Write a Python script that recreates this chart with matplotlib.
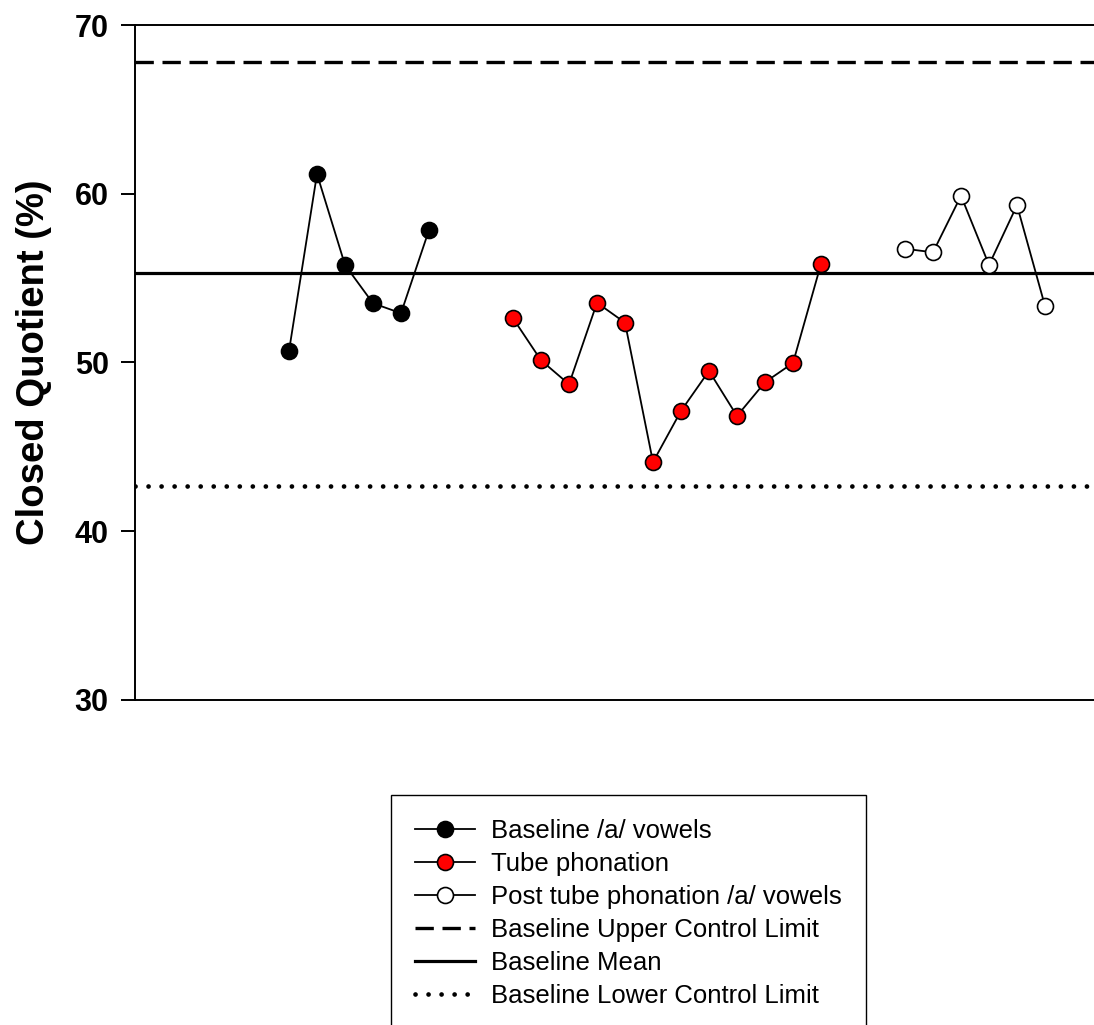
import matplotlib
matplotlib.use("Agg")
import matplotlib.pyplot as plt

plt.rcParams['font.family'] = ['Liberation Sans', 'DejaVu Sans']

# Data
baseline_x = [1, 2, 3, 4, 5, 6]
baseline_y = [50.68, 61.17, 55.78, 53.51, 52.92, 57.85]
tube_x = [9, 10, 11, 12, 13, 14, 15, 16, 17, 18, 19, 20]
tube_y = [52.62, 50.13, 48.71, 53.54, 52.36, 44.10, 47.13, 49.50, 46.83, 48.83, 49.97, 55.84]
post_x = [23, 24, 25, 26, 27, 28]
post_y = [56.74, 56.53, 59.88, 55.78, 59.32, 53.35]
ucl = 67.83
mean = 55.29
lcl = 42.68
yticks = [30, 40, 50, 60, 70]

fig = plt.figure(figsize=(10.94, 10.25), dpi=100)
ax = fig.add_axes([0.1234, 0.3171, 0.8766, 0.6585])

ms = 11.5
lw = 1.3
ax.plot(baseline_x, baseline_y, '-o', color='black', lw=lw, ms=ms,
        mfc='black', mec='black', mew=1.2, label='Baseline /a/ vowels', zorder=5)
ax.plot(tube_x, tube_y, '-o', color='black', lw=lw, ms=ms,
        mfc='red', mec='black', mew=1.2, label='Tube phonation', zorder=5)
ax.plot(post_x, post_y, '-o', color='black', lw=lw, ms=ms,
        mfc='white', mec='black', mew=1.2, label='Post tube phonation /a/ vowels', zorder=5)
ax.axhline(ucl, color='black', lw=2.4, linestyle=(0, (5.5, 2.6)),
           label='Baseline Upper Control Limit')
ax.axhline(mean, color='black', lw=2.3, label='Baseline Mean')
ax.axhline(lcl, color='black', lw=3.4, linestyle=(0, (0.01, 2.75)),
           dash_capstyle='round', label='Baseline Lower Control Limit')

ax.set_xlim(-4.5, 29.75)
ax.set_ylim(30, 70)
ax.set_yticks(yticks)
ax.set_xticks([])
ax.spines['right'].set_visible(False)
for s in ['left', 'top', 'bottom']:
    ax.spines[s].set_linewidth(1.4)
ax.tick_params(axis='y', direction='out', length=10, width=1.4, labelsize=22, pad=9)
for t in ax.get_yticklabels():
    t.set_fontweight('bold')
ax.set_ylabel('Closed Quotient (%)', fontsize=27.5, fontweight='bold', labelpad=16)

leg = fig.legend(loc='upper left', bbox_to_anchor=(0.357, 0.2244), fontsize=18.5,
                 frameon=True, fancybox=False, edgecolor='black', framealpha=1,
                 handlelength=2.35, handletextpad=0.6, borderpad=0.95,
                 labelspacing=0.35, borderaxespad=0)
leg.get_frame().set_linewidth(1.0)

fig.savefig('out.png', dpi=100)
